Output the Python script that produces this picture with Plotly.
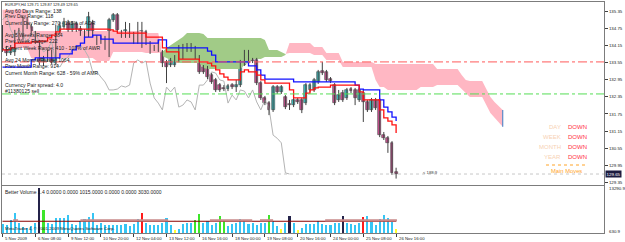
import plotly.graph_objects as go

W, H = 625, 242

# ---------------- data ----------------
x_labels = ["5 Nov 2009", "6 Nov 08:00", "9 Nov 12:00", "10 Nov 20:00", "12 Nov 04:00",
            "13 Nov 12:00", "16 Nov 16:00", "18 Nov 00:00", "19 Nov 08:00", "20 Nov 16:00",
            "24 Nov 00:00", "25 Nov 08:00", "26 Nov 16:00"]
x_label_bars = [0, 8, 16, 24, 32, 40, 48, 56, 64, 72, 80, 88, 96]

open_ = [134.76, 133.99, 133.88, 133.92, 134.62, 134.51, 134.97, 134.79, 134.58, 134.27,
         133.57, 133.71, 133.92, 133.53, 134.62, 134.79, 134.93, 134.69, 134.90, 134.72,
         134.58, 134.51, 134.93, 134.44, 134.27, 134.41, 134.09, 135.04, 135.21, 134.62,
         134.44, 134.62, 134.58, 134.27, 134.09, 134.62, 134.23, 134.09, 133.99, 133.92,
         133.57, 133.46, 133.46, 133.64, 133.74, 133.99, 134.16, 134.06, 133.74, 133.39,
         133.36, 133.11, 132.94, 132.76, 132.66, 132.62, 132.76, 132.69, 132.76, 133.46,
         133.64, 133.64, 133.64, 132.83, 132.31, 132.13, 131.89, 132.69, 132.52, 132.34,
         132.10, 132.06, 132.24, 132.24, 132.13, 132.59, 132.59, 132.87, 133.25, 133.22,
         132.97, 132.76, 132.24, 132.48, 132.31, 132.62, 132.59, 132.24, 132.48, 132.17,
         131.89, 132.24, 132.24, 131.01, 130.90, 130.74, 129.71]
high = [134.86, 134.13, 134.16, 134.69, 134.76, 135.14, 135.14, 134.90, 134.65, 134.34,
        133.78, 133.99, 133.99, 134.86, 134.97, 135.11, 135.04, 135.00, 134.97, 134.83,
        134.72, 135.32, 135.04, 134.51, 134.48, 134.48, 135.11, 135.28, 135.28, 134.69,
        134.97, 134.93, 134.62, 134.97, 134.97, 134.69, 134.30, 134.16, 134.34, 133.99,
        133.64, 133.71, 133.81, 134.16, 134.20, 134.23, 134.23, 134.13, 133.81, 133.46,
        133.43, 133.18, 133.01, 132.83, 132.76, 132.80, 132.83, 132.94, 133.64, 133.99,
        133.99, 133.71, 133.71, 132.90, 132.38, 132.20, 132.76, 132.76, 132.76, 132.41,
        132.24, 132.31, 132.31, 132.31, 132.83, 132.83, 133.01, 133.29, 133.57, 133.29,
        133.04, 132.83, 132.59, 132.59, 132.66, 132.69, 132.66, 132.66, 132.59, 132.24,
        132.31, 132.31, 132.31, 131.12, 130.98, 130.80, 129.87]
low = [133.92, 133.78, 133.81, 133.78, 134.34, 134.34, 134.72, 134.51, 134.20, 133.46,
       133.43, 133.57, 133.50, 133.46, 134.55, 134.72, 134.62, 134.62, 134.62, 134.48,
       134.44, 134.44, 134.44, 134.16, 134.20, 133.99, 133.74, 134.97, 134.62, 134.41,
       134.41, 134.41, 134.20, 134.20, 134.06, 134.16, 133.85, 133.95, 133.92, 133.39,
       132.83, 133.39, 133.39, 133.57, 133.67, 133.92, 133.92, 133.67, 133.15, 133.15,
       132.97, 132.80, 132.52, 132.52, 132.55, 132.55, 132.62, 132.52, 132.69, 133.43,
       133.46, 133.53, 132.76, 132.24, 132.06, 131.71, 131.82, 132.45, 132.45, 131.92,
       131.89, 131.99, 132.10, 131.78, 132.06, 132.52, 132.52, 132.80, 133.11, 132.87,
       132.83, 132.06, 132.17, 132.17, 132.24, 132.48, 132.06, 132.17, 131.47, 131.82,
       131.82, 131.89, 130.94, 130.84, 130.39, 129.62, 129.49]
close = [133.99, 133.88, 134.06, 134.62, 134.41, 134.97, 134.79, 134.58, 134.27, 133.57,
         133.71, 133.92, 133.57, 134.62, 134.83, 134.97, 134.69, 134.90, 134.72, 134.58,
         134.51, 135.14, 134.51, 134.23, 134.41, 134.16, 135.04, 135.21, 134.69, 134.44,
         134.69, 134.51, 134.27, 134.51, 134.65, 134.23, 133.92, 134.02, 134.27, 133.53,
         133.39, 133.64, 133.74, 133.99, 134.09, 134.16, 133.99, 133.74, 133.22, 133.22,
         133.04, 132.87, 132.59, 132.59, 132.62, 132.73, 132.69, 132.76, 133.53, 133.64,
         133.53, 133.60, 132.83, 132.31, 132.13, 131.89, 132.69, 132.52, 132.69, 131.99,
         132.06, 132.24, 132.17, 131.89, 132.76, 132.76, 132.94, 133.22, 133.18, 132.94,
         132.90, 132.13, 132.41, 132.24, 132.59, 132.55, 132.31, 132.59, 132.17, 131.89,
         132.24, 131.96, 131.01, 130.90, 130.74, 129.69, 129.65]

tenkan = [133.99, 133.99, 134.06, 134.23, 134.23, 134.23, 134.23, 134.27, 134.27, 134.30,
          134.30, 134.41, 134.51, 134.62, 134.72, 134.72, 134.72, 134.72, 134.72, 134.72,
          134.72, 134.72, 134.72, 134.72, 134.72, 134.72, 134.69, 134.65, 134.58, 134.58,
          134.58, 134.58, 134.58, 134.58, 134.58, 134.44, 134.44, 134.44, 134.44, 134.06,
          133.92, 133.92, 133.92, 133.67, 133.67, 133.67, 133.67, 133.67, 133.57, 133.57,
          133.53, 133.43, 133.29, 133.15, 133.04, 132.94, 132.94, 132.94, 133.22, 133.29,
          133.22, 133.22, 133.11, 132.94, 132.83, 132.83, 132.83, 132.83, 132.83, 132.83,
          132.59, 132.31, 132.31, 132.31, 132.48, 132.59, 132.66, 132.69, 132.69, 132.69,
          132.76, 132.76, 132.76, 132.76, 132.76, 132.76, 132.76, 132.52, 132.24, 132.24,
          132.24, 132.24, 131.89, 131.61, 131.50, 131.37, 131.08]
kijun = [133.39, 133.39, 133.39, 133.39, 133.39, 133.39, 133.39, 133.64, 133.71, 133.71,
         133.71, 133.71, 133.71, 133.71, 133.85, 133.85, 133.85, 133.99, 134.13, 134.23,
         134.44, 134.44, 134.51, 134.51, 134.37, 134.37, 134.37, 134.23, 134.23, 134.23,
         134.23, 134.23, 134.23, 134.23, 134.23, 134.23, 134.23, 134.23, 134.34, 134.34,
         134.06, 134.06, 134.06, 134.06, 134.06, 134.06, 134.06, 134.06, 134.06, 134.06,
         133.95, 133.81, 133.57, 133.57, 133.57, 133.57, 133.57, 133.57, 133.57, 133.57,
         133.43, 133.43, 133.29, 133.11, 132.97, 132.97, 132.97, 132.97, 132.97, 132.97,
         132.97, 132.87, 132.87, 132.87, 132.87, 132.87, 132.87, 132.87, 132.87, 132.87,
         132.87, 132.87, 132.87, 132.87, 132.87, 132.87, 132.76, 132.62, 132.59, 132.59,
         132.59, 132.59, 132.24, 131.99, 131.82, 131.64, 131.50]

# Senkou spans, already shifted 26 bars forward (bars 0..122)
span_a = [134.06, 134.06, 134.06, 134.06, 134.06, 134.06, 134.06, 133.71, 133.71, 133.71,
          133.71, 133.71, 133.71, 133.71, 133.71, 133.71, 133.71, 133.71, 133.71, 133.71,
          133.71, 133.71, 133.71, 133.60, 133.60, 133.60, 133.60, 133.92, 133.92, 133.92,
          133.92, 133.92, 133.92, 133.92, 133.92, 133.88, 133.88, 133.88, 133.88, 133.92,
          134.06, 134.16, 134.27, 134.34, 134.44, 134.58, 134.58, 134.58, 134.58, 134.55,
          134.41, 134.41, 134.41, 134.41, 134.41, 134.41, 134.41, 134.41, 134.41, 134.41,
          134.41, 134.41, 134.41, 134.41, 134.34, 133.99, 133.99, 133.99, 133.92, 133.85,
          133.88, 133.88, 133.88, 133.88, 133.88, 133.88, 133.81, 133.81, 133.81, 133.64,
          133.64, 133.64, 133.64, 133.39, 133.39, 133.39, 133.39, 133.39, 133.39, 133.39,
          133.39, 132.94, 132.69, 132.69, 132.59, 132.59, 132.59, 132.59, 132.59, 132.59,
          132.59, 132.59, 132.69, 132.69, 132.69, 132.69, 132.76, 132.76, 132.76, 132.76,
          132.76, 132.76, 132.62, 132.48, 132.34, 132.34, 132.34, 132.34, 132.06, 131.78,
          131.61, 131.47, 131.30]
span_b = [135.39, 135.39, 135.39, 135.39, 135.39, 135.39, 135.39, 134.65, 134.65, 134.65,
          134.65, 134.65, 134.65, 134.65, 134.65, 134.65, 134.65, 134.65, 134.65, 134.65,
          134.65, 134.65, 134.65, 134.65, 134.65, 134.65, 134.65, 134.65, 134.65, 134.65,
          134.65, 134.65, 134.65, 134.65, 134.65, 134.58, 134.58, 134.58, 134.58, 133.78,
          133.71, 133.64, 133.57, 133.53, 133.53, 133.53, 133.53, 133.53, 133.53, 133.36,
          133.32, 133.32, 133.32, 133.32, 133.32, 133.32, 133.32, 133.32, 133.32, 133.46,
          133.57, 133.67, 133.67, 133.67, 133.74, 133.74, 133.74, 133.74, 133.74, 133.81,
          134.23, 134.23, 134.23, 134.23, 134.23, 134.23, 134.09, 134.09, 134.09, 133.88,
          133.88, 133.88, 133.88, 133.57, 133.57, 133.57, 133.57, 133.57, 133.57, 133.57,
          133.57, 133.50, 133.50, 133.50, 133.50, 133.50, 133.50, 133.50, 133.50, 133.50,
          133.50, 133.50, 133.50, 133.50, 133.50, 133.50, 133.32, 133.32, 133.32, 133.32,
          133.32, 133.32, 133.11, 132.94, 132.90, 132.90, 132.90, 132.90, 132.62, 132.34,
          132.17, 132.02, 131.89]

chikou_shift = 26
level_lines = [133.57, 132.45]          # red / green horizontal levels
price_ticks = [135.35, 134.75, 134.15, 133.55, 132.95, 132.35, 131.75, 131.15, 130.55, 129.95, 129.35]

volume = [2974, 2692, 4098, 6066, 3442, 2200, 2037, 2505, 3255, 12625,
          6722, 3442, 2974, 4660, 4566, 4660, 5597, 2974, 2692, 3911,
          4379, 4848, 6066, 2692, 3255, 2692, 2880, 2692, 2692, 2692,
          2974, 2505, 2974, 4379, 6066, 3442, 2692, 2692, 2692, 3442,
          4660, 2692, 1568, 1755, 2974, 3442, 3255, 4192, 5691, 3442,
          3817, 2692, 3442, 5316, 3911, 2505, 2974, 3442, 4379, 3911,
          2974, 3442, 2692, 3255, 3442, 5503, 3911, 2505, 1755, 3442,
          5316, 3255, 1381, 2037, 2974, 2974, 2974, 3911, 2974, 2692,
          2692, 3255, 3442, 5316, 3442, 2974, 2692, 3255, 5035, 5129,
          3629, 2692, 4379, 5503, 4660, 3629, 1755]
# N normal, C climax, H churn, D climax-down, L low volume
vol_type = ["N", "N", "N", "N", "N", "N", "N", "N", "N", "D",
            "H", "N", "N", "N", "N", "N", "N", "N", "N", "N",
            "N", "N", "N", "N", "N", "N", "N", "N", "N", "N",
            "N", "N", "N", "N", "C", "N", "N", "N", "N", "N",
            "N", "N", "L", "N", "N", "N", "N", "H", "H", "N",
            "N", "N", "N", "H", "H", "N", "N", "N", "N", "N",
            "N", "N", "N", "N", "N", "H", "N", "N", "L", "N",
            "D", "N", "L", "N", "N", "N", "N", "N", "N", "N",
            "N", "N", "N", "D", "N", "N", "N", "N", "C", "N",
            "N", "N", "N", "N", "N", "N", "L"]
vol_avg_level = 3800
vol_hi_level = 4050
vol_hi_ranges = [(2.6, 3.8), (19, 40.4), (50.6, 60.9), (62.8, 66), (78.7, 96.2)]
vol_axis = [630.9, 13290.9]

info_lines = ["Avg 60 Days Range: 138", "Prev Day Range: 118", "Current Day Range: 270 - 195% of ADR",
              "Avg 5 Weeks Range: 384", "Prev Week Range: 222", "Current Week Range: 410 - 107% of AWR",
              "Avg 24 Months Range: 1064", "Prev Month Range: 914", "Current Month Range: 628 - 59% of AMR",
              "Currency Pair spread: 4.0", "#11380125 sell"]
info_y = [10.5, 16.5, 23, 34.5, 41, 47.5, 60, 66, 72.5, 84.5, 91]
trend_labels = ["DAY", "WEEK", "MONTH", "YEAR"]
trend_values = ["DOWN", "DOWN", "DOWN", "DOWN"]

# ---------------- helpers ----------------
def px(x):
    return x / W


def py(y):
    return 1 - y / H


FONT = "Liberation Sans, Arial, sans-serif"
n = len(close)
bars = list(range(n))

fig = go.Figure()

# ---- kumo: split into runs where span B above A (pink) / A above B (green)
runs = []
cur = {"x": [0], "a": [span_a[0]], "b": [span_b[0]], "pink": span_b[0] >= span_a[0]}
for i in range(len(span_a) - 1):
    d0 = span_b[i] - span_a[i]
    d1 = span_b[i + 1] - span_a[i + 1]
    if (d0 >= 0) != (d1 >= 0):
        t = d0 / (d0 - d1)
        xc = i + t
        yc = span_a[i] + t * (span_a[i + 1] - span_a[i])
        cur["x"].append(xc); cur["a"].append(yc); cur["b"].append(yc)
        runs.append(cur)
        cur = {"x": [xc], "a": [yc], "b": [yc], "pink": d1 >= 0}
    cur["x"].append(i + 1); cur["a"].append(span_a[i + 1]); cur["b"].append(span_b[i + 1])
runs.append(cur)

for pink in (True, False):
    xs, ys = [], []
    for r in runs:
        if r["pink"] != pink:
            continue
        xs += r["x"] + r["x"][::-1] + [r["x"][0], None]
        ys += r["b"] + r["a"][::-1] + [r["b"][0], None]
    if pink:
        fig.add_trace(go.Scatter(x=xs, y=ys, fill="toself", mode="lines", line=dict(width=0),
                                 fillcolor="#ffb7c3", hoverinfo="skip"))
    else:
        fig.add_trace(go.Scatter(x=xs, y=ys, fill="toself", mode="lines", line=dict(width=0),
                                 fillcolor="#9cc87e",
                                 fillpattern=dict(shape=".", fgcolor="#5c9e40", bgcolor="#b3d79b",
                                                  size=2, solidity=0.5),
                                 hoverinfo="skip"))
# end-of-cloud edge
fig.add_trace(go.Scatter(x=[len(span_a) - 1, len(span_a) - 1], y=[span_a[-1], span_b[-1]],
                         mode="lines", line=dict(color="#5a8ac8", width=1.2), hoverinfo="skip"))

# level lines and bid line
fig.add_shape(type="line", xref="x domain", yref="y", x0=0, x1=1, y0=level_lines[0], y1=level_lines[0],
              line=dict(color="#ff5a5a", width=1, dash="dashdot"))
fig.add_shape(type="line", xref="x domain", yref="y", x0=0, x1=1, y0=level_lines[1], y1=level_lines[1],
              line=dict(color="#55dd55", width=1, dash="dashdot"))
fig.add_shape(type="line", xref="x domain", yref="y", x0=0, x1=1, y0=close[-1], y1=close[-1],
              line=dict(color="#c8c8c8", width=1, dash="dot"))

# chikou span
ch_x = [i - chikou_shift for i in range(chikou_shift, n)]
ch_y = [close[i] for i in range(chikou_shift, n)]
fig.add_trace(go.Scatter(x=ch_x, y=ch_y, mode="lines", line=dict(color="#b4b4b4", width=1),
                         hoverinfo="skip"))

# candles: wicks + bodies
wx, wy = [], []
for i in bars:
    wx += [i, i, None]
    wy += [low[i], high[i], None]
fig.add_trace(go.Scatter(x=wx, y=wy, mode="lines", line=dict(color="#404040", width=1), hoverinfo="skip"))
body_col = ["#3cc6c6" if close[i] >= open_[i] else "#cf4f93" for i in bars]
body_h = [close[i] - open_[i] if abs(close[i] - open_[i]) > 0.01 else 0.012 for i in bars]
fig.add_trace(go.Bar(x=bars, y=body_h, base=open_, width=0.72,
                     marker=dict(color=body_col, line=dict(color="#404040", width=0.6)),
                     hoverinfo="skip"))

# tenkan / kijun
fig.add_trace(go.Scatter(x=bars, y=kijun, mode="lines", line=dict(color="#1010ff", width=1.3, shape="hv"),
                         hoverinfo="skip"))
fig.add_trace(go.Scatter(x=bars, y=tenkan, mode="lines", line=dict(color="#ff1010", width=1.3, shape="hv"),
                         hoverinfo="skip"))

# ---- volume panel
vcol_map = {"N": "#36c5f4", "C": "#ff1a1a", "H": "#3ee62a", "D": "#24234a", "L": "#ffff30"}
fig.add_trace(go.Bar(x=bars, y=volume, width=0.5, marker=dict(color=[vcol_map[t] for t in vol_type], line=dict(width=0)),
                     xaxis="x2", yaxis="y2", hoverinfo="skip"))
fig.add_trace(go.Scatter(x=[0, n - 1], y=[vol_avg_level, vol_avg_level], mode="lines",
                         line=dict(color="#8b0000", width=1.2), xaxis="x2", yaxis="y2", hoverinfo="skip"))
hx, hy = [], []
for a, b in vol_hi_ranges:
    hx += [a, b, None]
    hy += [vol_hi_level, vol_hi_level, None]
fig.add_trace(go.Scatter(x=hx, y=hy, mode="lines", line=dict(color="#c98a8a", width=2.2),
                         xaxis="x2", yaxis="y2", hoverinfo="skip"))

xr = [(2 - 2.5) / 4.1, (604 - 2.5) / 4.1]
fig.update_layout(
    width=W, height=H, margin=dict(l=0, r=0, t=0, b=0),
    paper_bgcolor="white", plot_bgcolor="white", showlegend=False, bargap=0,
    font=dict(family=FONT, size=5, color="#202020"),
    xaxis=dict(domain=[px(2), px(604)], range=xr, anchor="y", showticklabels=False, showgrid=False,
               zeroline=False, showline=True, mirror=True, linecolor="#7c7c7c", linewidth=1, ticks=""),
    yaxis=dict(domain=[py(185), py(2)], range=[129.266, 135.665], side="right", anchor="x",
               showgrid=False, zeroline=False, showline=True, mirror=True, linecolor="#7c7c7c",
               ticks="outside", ticklen=3, tickcolor="#404040", tickvals=price_ticks,
               ticktext=[f"{v:.2f}" for v in price_ticks], tickfont=dict(size=4.4, color="#202020")),
    xaxis2=dict(domain=[px(2), px(604)], range=xr, anchor="y2", matches="x", showticklabels=False,
                showgrid=False, zeroline=False, showline=True, mirror=True, linecolor="#7c7c7c",
                ticks="outside", ticklen=3, tickcolor="#404040", tickvals=x_label_bars),
    yaxis2=dict(domain=[py(233), py(186)], range=vol_axis, side="right", anchor="x2",
                showgrid=False, zeroline=False, showline=True, mirror=True, linecolor="#7c7c7c",
                showticklabels=False, ticks=""),
)

ann = []
ann.append(dict(text="EURJPY,H4 " + " ".join(f"{v:.2f}" for v in (open_[-1], high[-1], low[-1], close[-1])),
                x=px(3), y=py(4.5), xref="paper", yref="paper", xanchor="left", yanchor="middle",
                showarrow=False, font=dict(size=3.9, color="#202020")))
for t, yy in zip(info_lines, info_y):
    ann.append(dict(text=t, x=px(3), y=py(yy), xref="paper", yref="paper", xanchor="left",
                    yanchor="middle", showarrow=False, font=dict(size=5.1, color="#202020")))
for k, (lab, val) in enumerate(zip(trend_labels, trend_values)):
    yy = 127 + 10 * k
    ann.append(dict(text=lab, x=px(563), y=py(yy), xref="paper", yref="paper", xanchor="right",
                    yanchor="middle", showarrow=False, font=dict(size=6, color="#f7d2b4")))
    ann.append(dict(text=val, x=px(566), y=py(yy), xref="paper", yref="paper", xanchor="left",
                    yanchor="middle", showarrow=False, font=dict(size=6, color="#ff3045")))
ann.append(dict(text="Main Moves", x=px(566), y=py(170.5), xref="paper", yref="paper", xanchor="center",
                yanchor="middle", showarrow=False, font=dict(size=5.8, color="#ffa428")))
ann.append(dict(text="< 188:9", x=px(421), y=py(172), xref="paper", yref="paper", xanchor="left",
                yanchor="middle", showarrow=False, font=dict(size=4.2, color="#404040")))
ann.append(dict(text=f"{close[-1]:.2f}", x=px(605), y=close[-1], xref="paper", yref="y", xanchor="left",
                yanchor="middle", showarrow=False, bgcolor="#1c1c40", borderpad=0.6,
                font=dict(size=4.4, color="white")))
ann.append(dict(text=f"{vol_axis[1]:.1f}", x=px(607), y=py(188.5), xref="paper", yref="paper",
                xanchor="left", yanchor="middle", showarrow=False, font=dict(size=4.4, color="#202020")))
ann.append(dict(text=f"{vol_axis[0]:.1f}", x=px(607), y=py(231), xref="paper", yref="paper",
                xanchor="left", yanchor="middle", showarrow=False, font=dict(size=4.4, color="#202020")))
ann.append(dict(text="Better Volume 1.4 0.0000 0.0000 1015.0000 0.0000 0.0000 3030.0000", x=px(3), y=py(191.5),
                xref="paper", yref="paper", xanchor="left", yanchor="middle", showarrow=False,
                font=dict(size=5.0, color="#202020")))
ann.append(dict(text="MetaTrader 4, © 2001-2009 MetaQuotes Software Corp.", x=px(3), y=py(228.5),
                xref="paper", yref="paper", xanchor="left", yanchor="middle", showarrow=False,
                font=dict(size=4.4, color="#202020")))
for b, lab in zip(x_label_bars, x_labels):
    ann.append(dict(text=lab, x=b, y=py(238), xref="x2", yref="paper", xanchor="left", xshift=0.5,
                    yanchor="middle", showarrow=False, font=dict(size=4.3, color="#202020")))
fig.update_layout(annotations=ann)

# orange separator above "Main Moves"
fig.add_shape(type="line", xref="paper", yref="paper", x0=px(546), x1=px(586), y0=py(165), y1=py(165),
              line=dict(color="#ffa428", width=1, dash="dot"))

fig.write_html("out.html")
